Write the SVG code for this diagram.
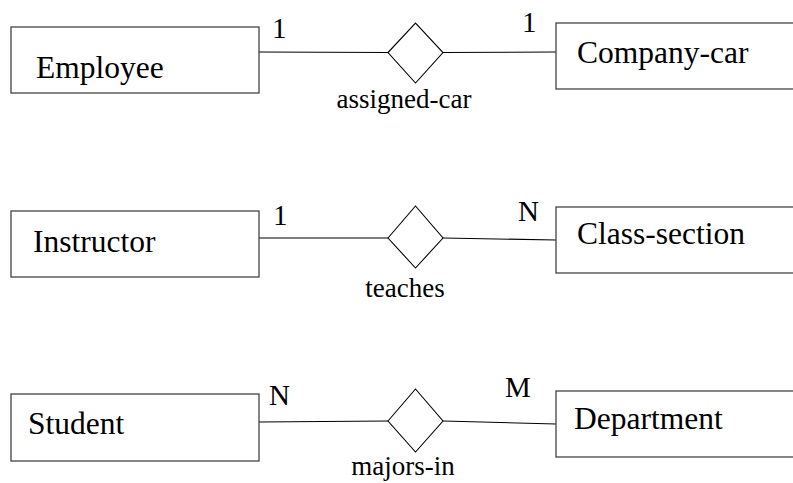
<svg xmlns="http://www.w3.org/2000/svg" width="793" height="483" viewBox="0 0 793 483">
<style>
  .box { fill: #fff; stroke: #444; stroke-width: 1.3; }
  .dia { fill: #fff; stroke: #000; stroke-width: 1.1; }
  .edge { stroke: #000; stroke-width: 1.1; }
  .serif { font-family: "Liberation Serif", "Times New Roman", serif; fill: #000; }
  .t-ent { font-size: 31.5px; }
  .t-card { font-size: 29px; }
  .t-rel { font-size: 27px; text-anchor: middle; }
</style>
<rect width="793" height="483" fill="#fff"/>
<g id="connectors">
  <line class="edge" x1="259" y1="52" x2="388" y2="52.5"/>
  <line class="edge" x1="443" y1="52.5" x2="556" y2="52"/>
  <line class="edge" x1="259" y1="238" x2="388" y2="238"/>
  <line class="edge" x1="443" y1="238" x2="556" y2="240"/>
  <line class="edge" x1="259" y1="422" x2="388" y2="421"/>
  <line class="edge" x1="443" y1="421" x2="556" y2="424"/>
</g>
<g id="employee">
  <rect class="box" x="11" y="27" width="248" height="66"/>
  <text class="serif t-ent" x="36" y="78">Employee</text>
</g>
<g id="company-car">
  <rect class="box" x="556" y="23" width="240" height="66"/>
  <text class="serif t-ent" x="577" y="63">Company-car</text>
</g>
<g id="assigned-car">
  <polygon class="dia" points="388,52.5 415.5,23 443,52.5 415.5,83"/>
  <text class="serif t-rel" x="404" y="108">assigned-car</text>
</g>
<g id="instructor">
  <rect class="box" x="11" y="211" width="248" height="66"/>
  <text class="serif t-ent" x="33" y="252">Instructor</text>
</g>
<g id="class-section">
  <rect class="box" x="556" y="207" width="240" height="66"/>
  <text class="serif t-ent" x="577" y="244">Class-section</text>
</g>
<g id="teaches">
  <polygon class="dia" points="388,238 415.5,206 443,238 415.5,268"/>
  <text class="serif t-rel" x="405" y="297">teaches</text>
</g>
<g id="student">
  <rect class="box" x="11" y="394" width="248" height="67"/>
  <text class="serif t-ent" x="28" y="434">Student</text>
</g>
<g id="department">
  <rect class="box" x="556" y="391" width="240" height="66"/>
  <text class="serif t-ent" x="574" y="429">Department</text>
</g>
<g id="majors-in">
  <polygon class="dia" points="388,421 415.5,389 443,421 415.5,452"/>
  <text class="serif t-rel" x="403" y="475">majors-in</text>
</g>
<g id="cardinalities" class="serif">
  <text class="t-card" x="272" y="38">1</text>
  <text class="t-card" x="522" y="32">1</text>
  <text class="t-card" x="273" y="225">1</text>
  <text class="t-card" x="518" y="221">N</text>
  <text class="t-card" x="269" y="405">N</text>
  <text class="t-card" x="505" y="397">M</text>
</g>
</svg>
